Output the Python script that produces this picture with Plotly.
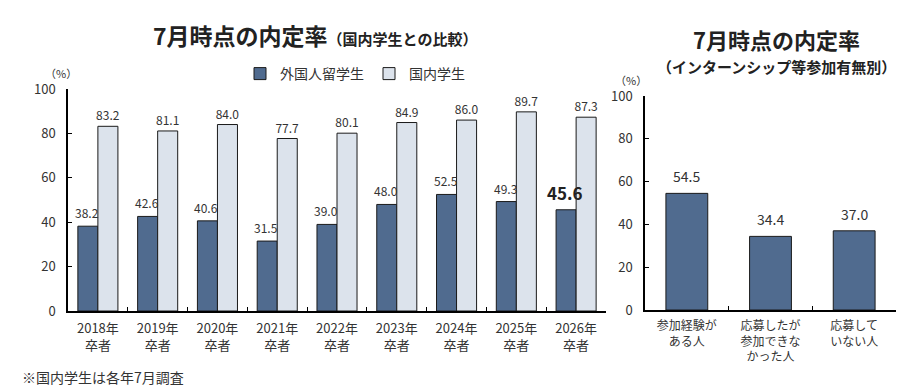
import plotly.graph_objects as go

years = ["2018年<br>卒者", "2019年<br>卒者", "2020年<br>卒者", "2021年<br>卒者", "2022年<br>卒者",
         "2023年<br>卒者", "2024年<br>卒者", "2025年<br>卒者", "2026年<br>卒者"]
foreign = [38.2, 42.6, 40.6, 31.5, 39.0, 48.0, 52.5, 49.3, 45.6]
domestic = [83.2, 81.1, 84.0, 77.7, 80.1, 84.9, 86.0, 89.7, 87.3]

intern_cats = ["参加経験が<br>ある人", "応募したが<br>参加できな<br>かった人", "応募して<br>いない人"]
intern_vals = [54.5, 34.4, 37.0]

y_ticks = [0, 20, 40, 60, 80, 100]

DARK = "#506b8f"
LIGHT = "#dce3ec"
TXT = "#333333"
FONT = "Noto Sans CJK JP"

fig = go.Figure()

fig.add_trace(go.Bar(
    x=years, y=foreign, name="外国人留学生",
    marker=dict(color=DARK, line=dict(color="#1a1a1a", width=1)),
    xaxis="x", yaxis="y",
))
fig.add_trace(go.Bar(
    x=years, y=domestic, name="国内学生",
    marker=dict(color=LIGHT, line=dict(color="#1a1a1a", width=1)),
    text=[f"{v:.1f}" for v in domestic], textposition="outside",
    textfont=dict(size=12, color=TXT),
    constraintext="none", cliponaxis=False, xaxis="x", yaxis="y",
))
fig.add_trace(go.Bar(
    x=intern_cats, y=intern_vals, name="参加有無",
    marker=dict(color=DARK, line=dict(color="#1a1a1a", width=1)),
    xaxis="x2", yaxis="y2", showlegend=False, width=0.5,
))

axis_common = dict(showline=True, linecolor="#000000", linewidth=1.5, ticks="inside",
                   ticklen=4, tickcolor="#000000", showgrid=False, zeroline=False,
                   automargin=False, fixedrange=True)

def ya(y):
    return 1 - y / 390

annotations = [
    dict(text="<b>7月時点の内定率</b><span style='font-size:15px'><b>（国内学生との比較）</b></span>",
         x=315/924, y=ya(35), xref="paper", yref="paper", showarrow=False,
         xanchor="center", yanchor="middle", font=dict(size=23, color="#222222")),
    dict(text="<b>7月時点の内定率</b>", x=776/924, y=ya(39), xref="paper", yref="paper",
         xanchor="center", yanchor="middle",
         showarrow=False, font=dict(size=22, color="#222222")),
    dict(text="<b>（インターンシップ等参加有無別）</b>", x=776/924, y=ya(66),
         xanchor="center", yanchor="middle",
         xref="paper", yref="paper", showarrow=False, font=dict(size=15, color="#222222")),
    dict(text="（%）", x=61/924, y=ya(73), xref="paper", yref="paper", showarrow=False,
         xanchor="center", yanchor="middle", font=dict(size=11, color=TXT)),
    dict(text="（%）", x=631/924, y=ya(80), xref="paper", yref="paper", showarrow=False,
         xanchor="center", yanchor="middle", font=dict(size=11, color=TXT)),
    dict(text="※国内学生は各年7月調査", x=20/924, y=ya(377), xref="paper", yref="paper",
         xanchor="left", yanchor="middle", showarrow=False, font=dict(size=14, color=TXT)),
]

# value labels for the foreign-student bars (drawn above all bars)
for i, (cat, v) in enumerate(zip(years, foreign)):
    last = i == len(foreign) - 1
    annotations.append(dict(
        x=cat, y=v, xref="x", yref="y", xshift=-11, yshift=3,
        xanchor="center", yanchor="bottom", showarrow=False,
        text=f"<b>{v:.1f}</b>" if last else f"{v:.1f}",
        font=dict(size=17 if last else 12, color="#222222" if last else TXT),
    ))

# value labels for the internship chart
for cat, v in zip(intern_cats, intern_vals):
    annotations.append(dict(
        x=cat, y=v, xref="x2", yref="y2", yshift=5,
        xanchor="center", yanchor="bottom", showarrow=False,
        text=f"{v:.1f}", font=dict(size=14, color=TXT),
    ))

fig.update_layout(
    width=924, height=390,
    margin=dict(l=0, r=0, t=0, b=0, autoexpand=False),
    paper_bgcolor="white", plot_bgcolor="white",
    font=dict(family=FONT, color=TXT, size=13),
    barmode="group", bargap=0.33, bargroupgap=0,
    xaxis=dict(domain=[68/924, 606/924], anchor="y", tickson="boundaries",
               tickfont=dict(size=13, color=TXT), ticklabelstandoff=5, **axis_common),
    yaxis=dict(domain=[ya(311), ya(89)], anchor="x", range=[0, 100],
               tickvals=y_ticks, tickfont=dict(size=13, color=TXT),
               ticklabelstandoff=8, **axis_common),
    xaxis2=dict(domain=[645/924, 896/924], anchor="y2", tickson="boundaries",
                tickfont=dict(size=12, color=TXT), ticklabelstandoff=4, **axis_common),
    yaxis2=dict(domain=[ya(310), ya(96)], anchor="x2", range=[0, 100],
                tickvals=y_ticks, tickfont=dict(size=13, color=TXT),
                ticklabelstandoff=8, **axis_common),
    legend=dict(orientation="h", x=240/924, y=ya(74), xanchor="left", yanchor="middle",
                font=dict(size=14, color=TXT), bgcolor="rgba(0,0,0,0)",
                itemwidth=30, traceorder="normal"),
    annotations=annotations,
)

fig.write_html("out.html", config={"displayModeBar": False},
               post_script="document.body.style.margin='0px';")
